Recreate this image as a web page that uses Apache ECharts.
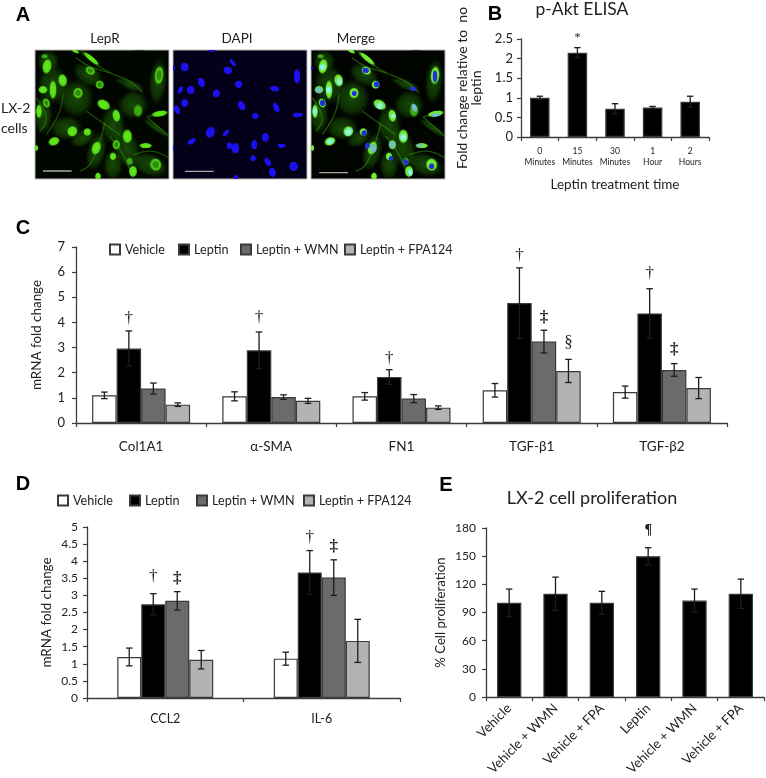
<!DOCTYPE html>
<html><head><meta charset="utf-8">
<style>html,body{margin:0;padding:0;background:#fff}#c{width:766px;height:778px}</style>
<script src="https://cdn.jsdelivr.net/npm/echarts@6/dist/echarts.min.js"></script></head>
<body><div id="c"></div>
<script>
const groupNames = ['Vehicle','Leptin','Leptin + WMN','Leptin + FPA124'];

const bCategories = ['0\nMinutes','15\nMinutes','30\nMinutes','1\nHour','2\nHours'];
const bValues = [1.0,2.15,0.72,0.75,0.90];
const bErrors = [0.04,0.13,0.13,0.03,0.14];
const bMarks = [[1,2.52,'*']];

const cCategories = ['Col1A1','α-SMA','FN1','TGF-β1','TGF-β2'];
const cVehicle = [1.10,1.06,1.06,1.30,1.23];
const cLeptin = [2.96,2.89,1.83,4.77,4.36];
const cWMN = [1.37,1.03,0.97,3.24,2.11];
const cFPA = [0.73,0.88,0.61,2.07,1.39];
const cVehicleErr = [0.13,0.18,0.15,0.27,0.24];
const cLeptinErr = [0.70,0.73,0.29,1.40,0.98];
const cWMNErr = [0.22,0.09,0.16,0.45,0.25];
const cFPAErr = [0.07,0.10,0.07,0.46,0.42];
const cMarks = [[0,1,4.15,'†'],[1,1,4.18,'†'],[2,1,2.56,'†'],[3,1,6.67,'†'],[3,2,4.18,'‡'],[3,3,3.2,'§'],[4,1,5.94,'†'],[4,2,2.92,'‡']];

const dCategories = ['CCL2','IL-6'];
const dVehicle = [1.20,1.15];
const dLeptin = [2.74,3.67];
const dWMN = [2.84,3.52];
const dFPA = [1.12,1.67];
const dVehicleErr = [0.26,0.19];
const dLeptinErr = [0.31,0.64];
const dWMNErr = [0.27,0.52];
const dFPAErr = [0.27,0.63];
const dMarks = [[0,1,3.55,'†'],[0,2,3.48,'‡'],[1,1,4.68,'†'],[1,2,4.42,'‡']];

const eCategories = ['Vehicle','Vehicle + WMN','Vehicle + FPA','Leptin','Vehicle + WMN','Vehicle + FPA'];
const eValues = [100.4,110,100.4,150,102.8,110];
const eErrors = [14.6,17.7,12.2,9,12.2,15.6];
const eMarks = [[3,177,'¶']];

// Micrograph content: [x, y, rx, ry, rotation degrees]
const hazeCells = [[60,110,48,62,0],[130,150,55,60,0],[165,80,50,32,30],[290,110,50,16,20],[300,170,48,45,0],[375,100,28,72,5],[240,230,38,60,0],[150,270,42,25,-30],[190,310,30,62,15],[280,300,40,72,-20],[350,350,58,36,20],[30,200,30,62,0],[100,240,50,38,0],[370,240,52,11,35],[240,350,30,48,0],[45,40,35,35,0],[170,30,45,9,40]];
const darkHoles = [[250,130,34,32,0],[320,40,40,38,0],[60,345,48,36,0],[350,265,30,20,0]];
const brightCells = [[42,55,15,25,10],[89,97,15,21,-10],[60,125,12,31,0],[30,125,15,13,0],[18,190,10,23,0],[212,170,23,16,30],[250,203,13,21,-10],[380,197,27,10,-10],[118,250,17,18,30],[163,252,13,13,30],[63,280,19,14,-20],[283,265,16,23,0],[190,300,15,23,20],[240,325,11,13,0],[338,293,21,9,0],[300,370,14,19,0],[195,385,10,13,0],[125,8,17,6,30],[175,32,32,8,40],[10,300,6,10,0]];
const dimCells = [[315,188,16,22,0],[290,340,12,14,0],[35,25,12,8,0]];
const ringCells = [[40,165,12,16,-20],[135,135,16,18,0],[172,68,17,13,30],[200,110,14,14,0],[378,82,15,30,5],[368,350,19,21,-10],[250,290,13,16,0]];
const fibres = [[[130,30],[170,55],[230,75],[290,100],[330,135]],[[150,15],[190,50],[235,75]],[[340,205],[380,240],[408,265]],[[300,320],[360,310],[408,330]],[[215,225],[200,280],[170,350],[140,370]],[[90,140],[80,190],[60,230],[40,260]],[[230,265],[270,320],[300,390]],[[160,190],[210,225],[260,260]],[[345,205],[375,200]],[[10,150],[40,210],[20,250]]];
const nuclei = [[41,57,13,14,0],[170,67,14,12,20],[185,44,6,15,-40],[378,85,11,23,0],[91,103,11,16,-20],[203,109,12,12,0],[59,126,12,14,0],[28,126,8,13,30],[311,122,15,9,10],[136,136,12,13,0],[41,165,11,13,0],[212,173,11,16,-30],[316,179,9,17,-25],[253,204,11,10,0],[380,201,17,8,-5],[18,185,9,15,-20],[118,253,14,18,20],[165,255,7,13,40],[62,280,8,15,55],[283,268,12,14,0],[250,290,10,15,0],[175,293,9,11,0],[193,301,13,17,0],[332,293,13,7,0],[246,331,9,10,0],[368,355,14,15,0],[290,342,9,15,-30],[304,373,11,15,-10],[195,388,8,7,0],[122,7,11,5,0],[8,60,4,9,0],[7,300,3,9,0]];
const mergeCyan = [[41,57,10,12,10],[91,101,9,13,-10],[59,126,10,13,0],[283,268,11,13,0],[212,173,12,12,30],[253,204,8,9,0],[118,252,12,14,30],[63,280,12,9,-20],[304,373,8,12,-10],[18,190,7,14,0]];
const mergeTeal = [[193,301,11,15,0],[250,290,9,13,0],[380,201,15,6,-5],[332,293,12,5,0],[316,179,9,15,-25],[30,126,10,11,0]];
const mergeBlue = [[170,67,11,9,20],[378,85,8,20,0],[203,109,10,10,0],[311,122,11,7,10],[136,136,8,9,0],[41,165,9,11,0],[165,255,8,10,40],[175,293,8,10,0],[246,331,8,8,0],[290,342,8,11,-30],[368,355,9,10,0],[8,60,3,8,0]];
const scaleBars = [[[30,369],[116,369]],[[42,370],[128,370]],[[31,374],[117,374]]];

const FONT = 'Lato';
const AX = '#3c3c3c';
const fills = ['#ffffff','#000000','#6b6b6b','#b3b3b3'];

function barSeries(name, data, g, fill, w){
  return {type:'bar',name,data,xAxisIndex:g,yAxisIndex:g,barWidth:w,barGap:0,
    itemStyle:{color:fill,borderColor:'#3a3a3a',borderWidth:1.2},silent:true,animation:false};
}
function errorSeries(vals, errs, g, slot, n, w, cap){
  return {type:'custom',xAxisIndex:g,yAxisIndex:g,clip:false,silent:true,animation:false,z:5,
    data:vals.map((v,i)=>[i,v,errs[i]]),
    renderItem(p,api){
      const i=api.value(0),v=api.value(1),e=api.value(2);
      const dx=(slot-(n-1)/2)*w;
      const a=api.coord([i,v+e]),b=api.coord([i,Math.max(v-e,0)]);
      const x=a[0]+dx,st={stroke:'#1c1c1c',lineWidth:1.3};
      return {type:'group',children:[
        {type:'line',shape:{x1:x,y1:a[1],x2:x,y2:b[1]},style:st},
        {type:'line',shape:{x1:x-cap,y1:a[1],x2:x+cap,y2:a[1]},style:st},
        {type:'line',shape:{x1:x-cap,y1:b[1],x2:x+cap,y2:b[1]},style:st}]};
    }};
}
// marks: [category, slot, value, text]
function markSeries(marks, g, n, w, size){
  return {type:'custom',xAxisIndex:g,yAxisIndex:g,clip:false,silent:true,animation:false,z:6,
    data:marks.map(m=>[m[0],m[2],m[1]]),
    renderItem(p,api){
      const c=api.coord([api.value(0),api.value(1)]);
      const x=c[0]+(api.value(2)-(n-1)/2)*w;
      const t=marks[p.dataIndex][3];
      return {type:'text',style:{x,y:c[1],text:t,align:'center',verticalAlign:'middle',fontFamily:'Liberation Serif',fontWeight:(t==='‡'||t==='¶')?'bold':'normal',fontSize:size,fill:'#222'}};
    }};
}
function catAxis(g, data, extra){
  return Object.assign({type:'category',gridIndex:g,data,
    axisLine:{show:true,onZero:false,lineStyle:{color:AX,width:1.3}},
    axisTick:{show:true,length:4,lineStyle:{color:AX,width:1.2}}
  },extra||{});
}
function valAxis(g, max, interval, name, gap, size, nsize, margin){
  return {type:'value',gridIndex:g,min:0,max,interval,name,nameLocation:'middle',nameRotate:90,nameGap:gap,
    nameTextStyle:{fontFamily:FONT,fontSize:nsize,color:'#222'},
    splitLine:{show:false},
    axisLine:{show:true,lineStyle:{color:AX,width:1.3}},
    axisTick:{show:true,length:4,lineStyle:{color:AX,width:1.2}},
    axisLabel:{fontFamily:FONT,fontSize:size,color:'#222',margin}};
}
function fieldAxes(g){
  return [{type:'value',gridIndex:g,min:6,max:408,show:false},
          {type:'value',gridIndex:g,min:6,max:393,inverse:true,show:false}];
}
function radial(stops){return {type:'radial',x:0.5,y:0.5,r:0.5,colorStops:stops.map(c=>({offset:c[0],color:c[1]}))};}
function blobs(data,g,stops,z){
  const fill=radial(stops);
  return {type:'custom',data,xAxisIndex:g,yAxisIndex:g,clip:true,silent:true,animation:false,z,
    renderItem(p,api){
      const c=api.coord([api.value(0),api.value(1)]);
      const s=api.size([1,1]);
      return {type:'circle',x:c[0],y:c[1],rotation:-api.value(4)*Math.PI/180,
        scaleX:api.value(2)*s[0]/10,scaleY:api.value(3)*s[1]/10,
        shape:{cx:0,cy:0,r:10},style:{fill}};
    }};
}
function strands(g,color,z){
  return {type:'custom',data:fibres.map((f,i)=>[i]),xAxisIndex:g,yAxisIndex:g,clip:true,silent:true,animation:false,z,
    renderItem(p,api){
      const pts=fibres[p.dataIndex].map(q=>api.coord(q));
      return {type:'polyline',shape:{points:pts,smooth:0.4},style:{stroke:color,lineWidth:1.3,fill:null,opacity:0.45}};
    }};
}
const hazeStops=[[0,'rgba(38,120,10,0.6)'],[0.65,'rgba(32,105,8,0.42)'],[1,'rgba(20,70,5,0)']];
const holeStops=[[0,'rgba(2,6,0,1)'],[0.7,'rgba(2,6,0,0.95)'],[1,'rgba(2,6,0,0)']];
const brightStops=[[0,'#66ec1c'],[0.72,'#55d816'],[1,'rgba(40,130,8,0)']];
const dimStops=[[0,'#3cae12'],[0.6,'#3aa810'],[1,'rgba(30,100,8,0)']];
const ringStops=[[0,'#2c8f0c'],[0.4,'#2c8f0c'],[0.62,'#52cc18'],[0.8,'#3ca810'],[1,'rgba(30,100,8,0)']];
const mBrightStops=[[0,'#7cf03c'],[0.72,'#6ce62c'],[1,'rgba(50,140,15,0)']];
const nucStops=[[0,'#1c10f4'],[0.85,'#1a10e8'],[1,'rgba(15,8,120,0)']];
const cyanStops=[[0,'#a4f6e4'],[0.72,'#7cf0d0'],[1,'rgba(110,240,160,0)']];
const tealStops=[[0,'#7cc0d0'],[0.72,'#6cb8cc'],[1,'rgba(90,190,160,0)']];
const blueStops=[[0,'#2028e8'],[0.8,'#2434dc'],[1,'rgba(40,90,190,0)']];

const grids = [
  {left:521,top:39,width:188,height:98},
  {left:76,top:247,width:651,height:176},
  {left:87,top:527,width:313,height:171},
  {left:486,top:528,width:278,height:171},
  {left:35,top:50,width:134,height:129,show:true,backgroundColor:'#020600',borderColor:'#b8b8b8',borderWidth:1},
  {left:173,top:50,width:134,height:129,show:true,backgroundColor:'#04001a',borderColor:'#b8b8b8',borderWidth:1},
  {left:311,top:50,width:134,height:129,show:true,backgroundColor:'#010300',borderColor:'#b8b8b8',borderWidth:1}
];
const fa=[fieldAxes(4),fieldAxes(5),fieldAxes(6)];
const labelStyle=(size,margin,more)=>Object.assign({fontFamily:FONT,fontSize:size,color:'#222',interval:0,margin},more||{});
const xAxes=[
  catAxis(0,bCategories,{name:'Leptin treatment time',nameLocation:'middle',nameGap:41,nameTextStyle:{fontFamily:FONT,fontSize:13.5,color:'#222'},axisLabel:labelStyle(8.5,9,{lineHeight:11})}),
  catAxis(1,cCategories,{axisLabel:labelStyle(13.5,17)}),
  catAxis(2,dCategories,{axisLabel:labelStyle(12.5,14)}),
  catAxis(3,eCategories,{axisLabel:labelStyle(13.2,9,{rotate:45})}),
  fa[0][0],fa[1][0],fa[2][0]];
const yAxes=[
  valAxis(0,2.5,0.5,'Fold change relative to  no\nleptin',38,13,14,8),
  valAxis(1,7,1,'mRNA fold change',33,13,13.4,11),
  valAxis(2,5,0.5,'mRNA fold change',34,12,13.4,9),
  valAxis(3,180,30,'% Cell proliferation',39,12,13.2,10),
  fa[0][1],fa[1][1],fa[2][1]];

const series=[];
series.push(barSeries('p-Akt',bValues,0,'#000',19.5),errorSeries(bValues,bErrors,0,0,1,19.5,3.2),markSeries(bMarks.map(m=>[m[0],0,m[1],m[2]]),0,1,19.5,12));
[[cVehicle,cVehicleErr],[cLeptin,cLeptinErr],[cWMN,cWMNErr],[cFPA,cFPAErr]].forEach((s,i)=>{
  series.push(barSeries(groupNames[i],s[0],1,fills[i],24.5),errorSeries(s[0],s[1],1,i,4,24.5,3.3));
});
series.push(markSeries(cMarks,1,4,24.5,17));
[[dVehicle,dVehicleErr],[dLeptin,dLeptinErr],[dWMN,dWMNErr],[dFPA,dFPAErr]].forEach((s,i)=>{
  series.push(barSeries(groupNames[i],s[0],2,fills[i],24),errorSeries(s[0],s[1],2,i,4,24,3.3));
});
series.push(markSeries(dMarks,2,4,24,17));
series.push(barSeries('Proliferation',eValues,3,'#000',24.3),errorSeries(eValues,eErrors,3,0,1,24.3,3.2),markSeries(eMarks.map(m=>[m[0],0,m[1],m[2]]),3,1,24.3,14));
// A: LepR
series.push(blobs(hazeCells,4,hazeStops,2),blobs(darkHoles,4,holeStops,3),strands(4,'#3aa012',4),
  blobs(dimCells,4,dimStops,5),blobs(ringCells,4,ringStops,5),blobs(brightCells,4,brightStops,6));
// A: DAPI
series.push(blobs(nuclei,5,nucStops,3));
// A: Merge
series.push(blobs(hazeCells,6,hazeStops,2),blobs(darkHoles,6,holeStops,3),strands(6,'#48b018',4),
  blobs(dimCells,6,dimStops,5),blobs(ringCells,6,mBrightStops,5),blobs(brightCells,6,mBrightStops,6),
  blobs(mergeTeal,6,tealStops,7),blobs(mergeCyan,6,cyanStops,7),blobs(mergeBlue,6,blueStops,8));
scaleBars.forEach((b,i)=>series.push({type:'line',data:b,xAxisIndex:4+i,yAxisIndex:4+i,symbol:'none',silent:true,animation:false,z:9,lineStyle:{color:'#a8a8a8',width:1.3}}));

function txt(t,x,y,size,opt){
  return {type:'text',silent:true,z:20,style:Object.assign({text:t,x,y,fontFamily:FONT,fontSize:size,fill:'#222',align:'center',verticalAlign:'middle'},opt||{})};
}
const letter={fontFamily:'Liberation Sans',fontWeight:'bold',fill:'#000'};
const graphicEls=[
  txt('A',23,15,20,letter),txt('B',495,14,20,letter),txt('C',23,228,20,letter),txt('D',23,484,20,letter),txt('E',446,485,20,letter),
  txt('LepR',105,39,13.5),txt('DAPI',237,39,13.5),txt('Merge',356,39,13.5),
  txt('LX-2',1,108,14,{align:'left'}),txt('cells',1,128,14,{align:'left'}),
  txt('p-Akt ELISA',582,9,17.5),txt('LX-2 cell proliferation',592,498,18)
];
const legendStyle={fontFamily:FONT,fontSize:12.6,color:'#222'};
function legendAt(lefts,top){
  return groupNames.map((n,i)=>({data:[n],left:lefts[i],top,icon:'rect',itemWidth:10,itemHeight:10,selectedMode:false,textStyle:legendStyle,padding:0}));
}
const cLegendLefts=[109,178,240,344];
const dLegendLefts=[57,129,196,303];
const option={
  animation:false,backgroundColor:'#fff',
  grid:grids,xAxis:xAxes,yAxis:yAxes,series,
  legend:[...legendAt(cLegendLefts,243),...legendAt(dLegendLefts,494)],
  graphic:{elements:graphicEls}
};
echarts.init(document.getElementById('c'),null,{renderer:'canvas'}).setOption(option);
</script></body></html>
